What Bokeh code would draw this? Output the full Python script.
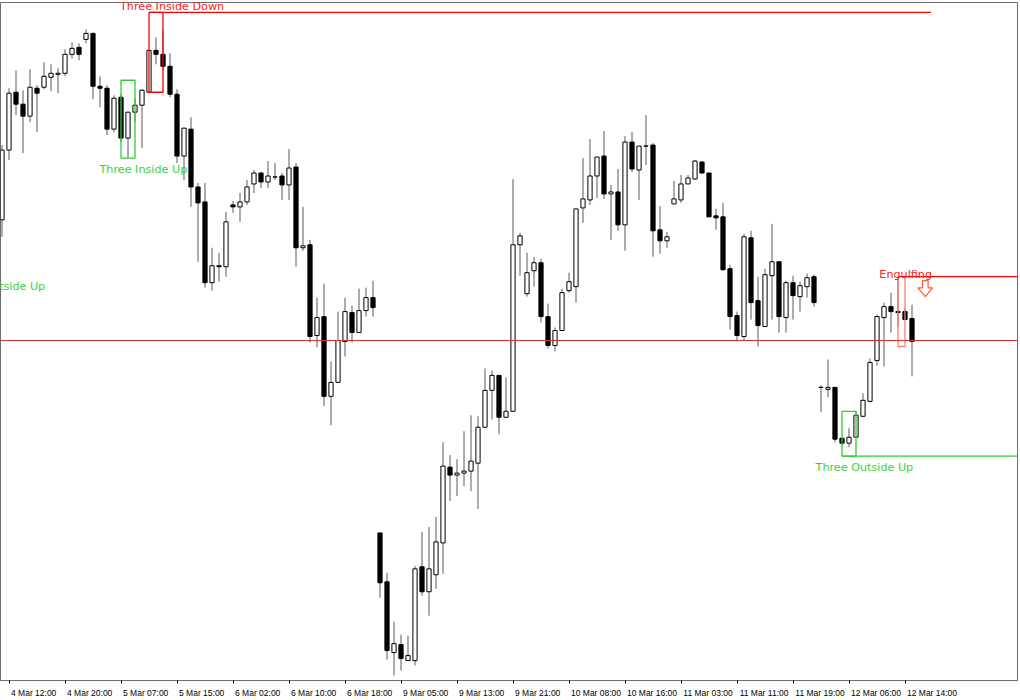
from bokeh.plotting import figure
from bokeh.models import Range1d, FixedTicker, ColumnDataSource, Span
from bokeh.core.properties import value
from bokeh.embed import file_html
from bokeh.resources import INLINE

# ---- hourly candles (price in points), index 0..130 ----
open_ = [480, 550, 608, 596, 584, 612, 613, 623, 626, 627,
         646, 653, 661, 667, 614, 612, 571, 603, 562, 588,
         595, 608, 650, 646, 634, 606, 544, 571, 513, 498,
         417, 434, 433, 495, 493, 498, 516, 527, 518, 523,
         524, 515, 533, 452, 455, 364, 383, 303, 317, 358,
         387, 367, 389, 402, 166, 117, 46, 54, 38, 38,
         132, 107, 124, 156, 232, 224, 226, 228, 236, 272,
         309, 324, 282, 288, 455, 406, 429, 437, 383, 354,
         369, 409, 413, 492, 500, 524, 544, 506, 508, 475,
         558, 530, 554, 555, 470, 459, 496, 500, 516, 521,
         538, 527, 484, 483, 431, 384, 363, 462, 399, 373,
         424, 438, 382, 417, 403, 413, 423, 312, 310, 312,
         261, 256, 262, 283, 298, 339, 382, 393, 388, 388,
         381]
high = [555, 612, 630, 610, 631, 615, 638, 636, 632, 651,
        658, 657, 671, 668, 624, 615, 605, 606, 588, 602,
        611, 650, 663, 670, 647, 611, 572, 583, 517, 517,
        452, 447, 488, 499, 507, 520, 530, 528, 539, 537,
        527, 551, 537, 493, 460, 402, 416, 338, 388, 402,
        394, 411, 412, 419, 166, 126, 77, 64, 63, 133,
        167, 172, 182, 257, 244, 240, 268, 284, 283, 331,
        329, 324, 322, 521, 467, 447, 443, 441, 396, 372,
        411, 427, 491, 542, 561, 543, 569, 515, 531, 564,
        568, 554, 585, 557, 494, 468, 519, 525, 525, 540,
        539, 527, 491, 497, 435, 388, 466, 469, 423, 431,
        476, 438, 419, 424, 418, 426, 425, 314, 340, 312,
        261, 271, 287, 306, 341, 385, 397, 407, 423, 391,
        395]
low = [463, 540, 585, 547, 578, 568, 611, 609, 607, 624,
       642, 640, 657, 601, 593, 565, 568, 558, 542, 578,
       552, 608, 636, 630, 603, 537, 520, 493, 438, 412,
       409, 418, 423, 487, 478, 495, 507, 512, 512, 520,
       500, 500, 433, 449, 357, 352, 293, 274, 317, 343,
       357, 367, 383, 383, 101, 39, 23, 28, 38, 33,
       103, 83, 110, 125, 198, 203, 213, 208, 190, 272,
       280, 265, 282, 288, 424, 403, 413, 377, 351, 348,
       369, 407, 397, 477, 495, 502, 501, 460, 469, 449,
       528, 500, 535, 443, 446, 452, 496, 497, 516, 520,
       526, 483, 470, 429, 370, 358, 359, 380, 353, 373,
       380, 367, 367, 380, 388, 402, 393, 287, 302, 257,
       254, 252, 262, 282, 297, 334, 333, 367, 373, 380,
       323]
close = [550, 607, 596, 584, 613, 607, 624, 627, 627, 646,
         652, 646, 667, 614, 612, 571, 602, 562, 588, 595,
         610, 650, 646, 634, 606, 544, 572, 513, 497, 417,
         434, 433, 478, 493, 498, 513, 527, 518, 524, 523,
         515, 532, 452, 454, 363, 382, 303, 317, 359, 388,
         367, 389, 402, 392, 116, 48, 55, 40, 43, 130,
         107, 130, 157, 233, 224, 226, 228, 238, 272, 309,
         324, 282, 288, 455, 464, 427, 437, 383, 354, 369,
         407, 418, 491, 501, 524, 543, 506, 508, 475, 558,
         531, 554, 554, 469, 459, 463, 501, 516, 522, 539,
         527, 483, 482, 430, 383, 364, 463, 397, 374, 425,
         438, 383, 417, 404, 414, 422, 397, 312, 312, 260,
         256, 262, 284, 299, 337, 383, 393, 388, 387, 380,
         358]

# ---- time axis ----
tick_index = [1, 9, 17, 25, 33, 41, 49, 57, 65, 73, 81, 89, 97, 105, 113, 121, 129]
tick_labels = ["4 Mar 12:00", "4 Mar 20:00", "5 Mar 07:00", "5 Mar 15:00",
               "6 Mar 02:00", "6 Mar 10:00", "6 Mar 18:00", "9 Mar 05:00",
               "9 Mar 13:00", "9 Mar 21:00", "10 Mar 08:00", "10 Mar 16:00",
               "11 Mar 03:00", "11 Mar 11:00", "11 Mar 19:00", "12 Mar 06:00",
               "12 Mar 14:00"]

# ---- current price line ----
price_level = 359

# ---- candlestick pattern boxes ----
box_name = ["Three Inside Up", "Three Inside Down", "Three Outside Up", "Engulfing"]
box_start = [17, 21, 120, 128]
box_end = [19, 23, 122, 129]
box_top = [620, 688, 288, 423]
box_bottom = [542, 608, 243, 353]
box_color = ["#32CD32", "#FF0000", "#32CD32", "#F4807A"]

# level lines drawn from the patterns
seg_start = [21]
seg_end = [132.7]
seg_level = [688]
seg_color = ["#FF0000"]
ray_start = [120, 128]
ray_level = [243, 423]
ray_color = ["#32CD32", "#FF0000"]

# pattern labels
label_text = ["Three Inside Up", "Three Inside Down", "Three Outside Up", "Engulfing", "Three Outside Up"]
label_x = [20.2, 24.3, 123.2, 129.1, -0.8]
label_y = [531, 694, 232, 425, 413]
label_color = ["#3CD23C", "#FF2020", "#3CD23C", "#FF2020", "#3CD23C"]

# signal arrow (bearish)
arrow_x = [131.9]
arrow_top = [419]
arrow_bottom = [403]

# ------------------------------------------------------------------
W, H = 1020, 700
PX = 7.0  # pixels per candle
BR = 3    # right border
x0 = -1.5 / PX
p = figure(width=W, height=H, output_backend="svg", toolbar_location=None,
           x_range=Range1d(x0, x0 + (W - BR) / PX), y_range=Range1d(18, 698),
           y_axis_location=None, min_border_left=0, min_border_right=BR,
           min_border_top=2, min_border_bottom=18,
           background_fill_color="white", border_fill_color="white",
           outline_line_color="#6e6e6e", outline_line_width=1)
p.grid.visible = False

idx = list(range(len(open_)))
body_top = [max(o, c) for o, c in zip(open_, close)]
body_bot = [min(o, c) for o, c in zip(open_, close)]
fill = ["white" if c > o else "black" for o, c in zip(open_, close)]
src = ColumnDataSource(dict(x=idx, high=high, low=low, top=body_top, bottom=body_bot, fill=fill))

p.segment(x0="x", y0="low", x1="x", y1="high", source=src, line_color="#5a5a5a", line_width=1)
p.vbar(x="x", width=0.6, top="top", bottom="bottom", source=src,
       fill_color="fill", line_color="black", line_width=1)

p.add_layout(Span(location=price_level, dimension="width", line_color="#D03434", line_width=1))

# pattern boxes
p.quad(left=box_start, right=box_end, top=box_top, bottom=box_bottom,
       fill_alpha=0, line_color=box_color, line_width=1.3)
p.segment(x0=seg_start, y0=seg_level, x1=seg_end, y1=seg_level, line_color=seg_color, line_width=1.3)
p.ray(x=ray_start, y=ray_level, length=0, angle=0, line_color=ray_color, line_width=1.3)

lsrc = ColumnDataSource(dict(x=label_x, y=label_y, t=label_text, c=label_color))
p.text(x="x", y="y", text="t", text_color="c", source=lsrc,
       text_font=value("DejaVu Sans"), text_font_size="11.2px",
       text_align="center", text_baseline="alphabetic")

# hollow down arrow
for ax, at, ab in zip(arrow_x, arrow_top, arrow_bottom):
    mid = at - 0.45 * (at - ab)
    xs = [ax - 0.4, ax + 0.4, ax + 0.4, ax + 1.05, ax, ax - 1.05, ax - 0.4]
    ys = [at, at, mid, mid, ab, mid, mid]
    p.patch(xs, ys, fill_color="white", line_color="#FF5A30", line_width=1.2)

# axis: tick marks at label times, labels left-aligned after each tick
cw = {" ": .278, ":": .278, "M": .833, "a": .556, "r": .333}
fs = 8.5
centers = []
for t, lab in zip(tick_index, tick_labels):
    w = sum(cw.get(ch, .556) for ch in lab) * fs
    centers.append(round(t + (2 + w / 2) / PX, 3))
ax_ = p.xaxis[0]
ax_.ticker = FixedTicker(ticks=centers, minor_ticks=tick_index)
ax_.major_label_overrides = {c: l for c, l in zip(centers, tick_labels)}
ax_.major_tick_line_color = None
ax_.major_tick_out = 0
ax_.major_tick_in = 0
ax_.minor_tick_out = 3
ax_.minor_tick_in = 0
ax_.minor_tick_line_color = "black"
ax_.axis_line_color = "#6e6e6e"
ax_.major_label_standoff = 4
ax_.major_label_text_font = "Liberation Sans"
ax_.major_label_text_font_size = "8.5px"
ax_.major_label_text_color = "#000000"

open("out.html", "w").write(file_html(p, INLINE))
